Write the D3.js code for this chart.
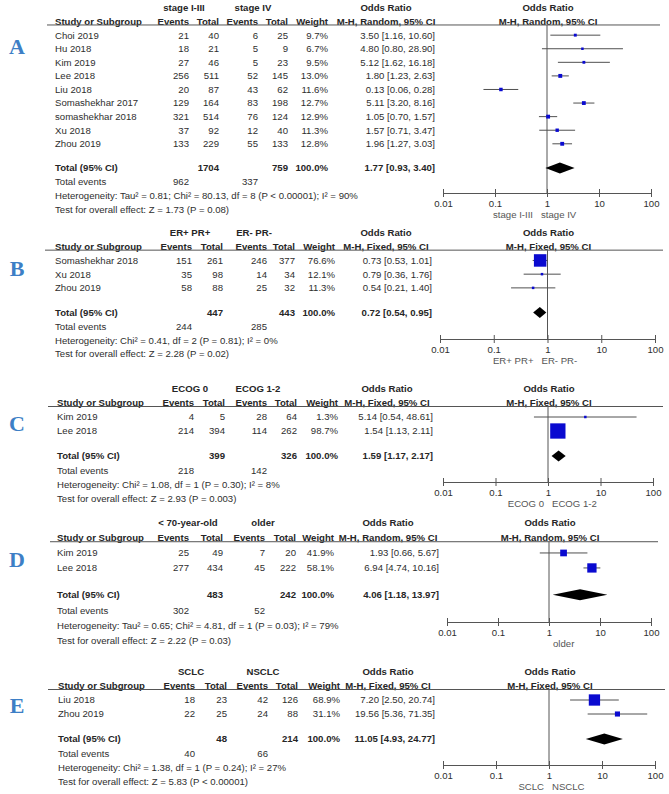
<!DOCTYPE html>
<html>
<head>
<meta charset="utf-8">
<script src="https://cdn.jsdelivr.net/npm/d3@7"></script>
<style>
  body { margin: 0; background: #fff; }
  svg text { font-family: Arial, "Liberation Sans", sans-serif; font-size: 9.6px; fill: #2e2e2e; }
  svg .bold { font-weight: bold; fill: #262626; }
</style>
</head>
<body>
<div id="chart"></div>
<script>
// Data
const letters = ["A", "B", "C", "D", "E"];
const groupNames = [["stage I-III", "stage IV"], ["ER+ PR+", "ER- PR-"], ["ECOG 0", "ECOG 1-2"], ["< 70-year-old", "older"], ["SCLC", "NSCLC"]];
const methodNames = ["M-H, Random, 95% CI", "M-H, Fixed, 95% CI", "M-H, Fixed, 95% CI", "M-H, Random, 95% CI", "M-H, Fixed, 95% CI"];

// study, events1, total1, events2, total2, weight %, OR, lower, upper
const stageRows = [
  ["Choi 2019", 21, 40, 6, 25, 9.7, 3.50, 1.16, 10.60],
  ["Hu 2018", 18, 21, 5, 9, 6.7, 4.80, 0.80, 28.90],
  ["Kim 2019", 27, 46, 5, 23, 9.5, 5.12, 1.62, 16.18],
  ["Lee 2018", 256, 511, 52, 145, 13.0, 1.80, 1.23, 2.63],
  ["Liu 2018", 20, 87, 43, 62, 11.6, 0.13, 0.06, 0.28],
  ["Somashekhar 2017", 129, 164, 83, 198, 12.7, 5.11, 3.20, 8.16],
  ["somashekhar 2018", 321, 514, 76, 124, 12.9, 1.05, 0.70, 1.57],
  ["Xu 2018", 37, 92, 12, 40, 11.3, 1.57, 0.71, 3.47],
  ["Zhou 2019", 133, 229, 55, 133, 12.8, 1.96, 1.27, 3.03]
];
const receptorRows = [
  ["Somashekhar 2018", 151, 261, 246, 377, 76.6, 0.73, 0.53, 1.01],
  ["Xu 2018", 35, 98, 14, 34, 12.1, 0.79, 0.36, 1.76],
  ["Zhou 2019", 58, 88, 25, 32, 11.3, 0.54, 0.21, 1.40]
];
const ecogRows = [
  ["Kim 2019", 4, 5, 28, 64, 1.3, 5.14, 0.54, 48.61],
  ["Lee 2018", 214, 394, 114, 262, 98.7, 1.54, 1.13, 2.11]
];
const ageRows = [
  ["Kim 2019", 25, 49, 7, 20, 41.9, 1.93, 0.66, 5.67],
  ["Lee 2018", 277, 434, 45, 222, 58.1, 6.94, 4.74, 10.16]
];
const histologyRows = [
  ["Liu 2018", 18, 23, 42, 126, 68.9, 7.20, 2.50, 20.74],
  ["Zhou 2019", 22, 25, 24, 88, 31.1, 19.56, 5.36, 71.35]
];

// total1, total2, events1, events2, OR, lower, upper
const pooled = [
  [1704, 759, 962, 337, 1.77, 0.93, 3.40],
  [447, 443, 244, 285, 0.72, 0.54, 0.95],
  [399, 326, 218, 142, 1.59, 1.17, 2.17],
  [483, 242, 302, 52, 4.06, 1.18, 13.97],
  [48, 214, 40, 66, 11.05, 4.93, 24.77]
];
const heterogeneity = [
  "Heterogeneity: Tau² = 0.81; Chi² = 80.13, df = 8 (P < 0.00001); I² = 90%",
  "Heterogeneity: Chi² = 0.41, df = 2 (P = 0.81); I² = 0%",
  "Heterogeneity: Chi² = 1.08, df = 1 (P = 0.30); I² = 8%",
  "Heterogeneity: Tau² = 0.65; Chi² = 4.81, df = 1 (P = 0.03); I² = 79%",
  "Heterogeneity: Chi² = 1.38, df = 1 (P = 0.24); I² = 27%"
];
const overallEffect = [
  "Test for overall effect: Z = 1.73 (P = 0.08)",
  "Test for overall effect: Z = 2.28 (P = 0.02)",
  "Test for overall effect: Z = 2.93 (P = 0.003)",
  "Test for overall effect: Z = 2.22 (P = 0.03)",
  "Test for overall effect: Z = 5.83 (P < 0.00001)"
];
const axisNotes = [["stage I-III", "stage IV"], ["ER+ PR+", "ER- PR-"], ["ECOG 0", "ECOG 1-2"], ["", "older"], ["SCLC", "NSCLC"]];
const tickValues = [0.01, 0.1, 1, 10, 100];

const studyRows = [stageRows, receptorRows, ecogRows, ageRows, histologyRows];

// layout of each stacked panel (pixels)
const layout = [
  { top: 8,   s: 0.97, studyX: 55, cols: [189, 219, 258, 288, 328], groupX: [184, 253], orHead: 386, orRight: 435, lineX: [47, 660], range: [443, 651], axisY: 193, letterY: 46,  boxK: 0.3,   noteShift: -10 },
  { top: 233, s: 0.98, studyX: 55, cols: [192, 223, 267, 295, 335], groupX: [190, 254], orHead: 386, orRight: 432, lineX: [45, 663], range: [440, 655], axisY: 339, letterY: 268, boxK: 0.163, noteShift: -10 },
  { top: 389, s: 1.0,  studyX: 57, cols: [194, 225, 267, 297, 338], groupX: [190, 258], orHead: 387, orRight: 433, lineX: [48, 663], range: [443, 653], axisY: 482, letterY: 423, boxK: 0.155, noteShift: 0 },
  { top: 523, s: 1.07, studyX: 57, cols: [189, 223, 265, 296, 334], groupX: [188, 263], orHead: 388, orRight: 439, lineX: [50, 658], range: [447, 651], axisY: 622, letterY: 559, boxK: 0.16,  noteShift: 0 },
  { top: 672, s: 1.0,  studyX: 58, cols: [195, 227, 268, 298, 340], groupX: [191, 263], orHead: 388, orRight: 435, lineX: [48, 665], range: [443, 655], axisY: 765, letterY: 705, boxK: 0.164, noteShift: -1 }
];

const svg = d3.select("#chart")
  .append("svg")
  .attr("width", 669)
  .attr("height", 794);

const fmt2 = d3.format(".2f");
const ciText = (or, lo, hi) => `${fmt2(or)} [${fmt2(lo)}, ${fmt2(hi)}]`;

function label(g, x, y, txt, anchor, bold) {
  return g.append("text")
    .attr("x", x).attr("y", y).attr("dy", "0.35em")
    .attr("text-anchor", anchor || "start")
    .attr("class", bold ? "bold" : null)
    .text(txt);
}

letters.forEach((letter, p) => {
  const L = layout[p];
  const rows = studyRows[p];
  const g = svg.append("g");
  const s = L.s;

  const yGroup = L.top;
  const yCol = L.top + 14 * s;
  const yLine = L.top + 17.5 * s;
  const rowY = i => L.top + 28 * s + i * 14 * s;
  const yTotal = rowY(rows.length - 1) + 25 * s;
  const yEvents = yTotal + 14.5 * s;
  const yHet = yEvents + 14 * s;
  const yTest = yHet + 14 * s;

  const x = d3.scaleLog().domain([0.01, 100]).range(L.range);
  const box = d3.scaleLinear().domain([0, 100]).range([0, L.boxK * 100]);
  const x1 = x(1);

  // panel letter
  g.append("text")
    .attr("x", 17).attr("y", L.letterY).attr("dy", "0.35em")
    .attr("text-anchor", "middle")
    .style("font-family", "'Liberation Serif', 'Times New Roman', serif")
    .style("font-size", "22px")
    .style("font-weight", "bold")
    .style("fill", "#3d7fc6")
    .text(letter);

  // headers
  groupNames[p].forEach((nm, i) => label(g, L.groupX[i], yGroup, nm, "middle", true));
  label(g, L.studyX, yCol, "Study or Subgroup", "start", true);
  ["Events", "Total", "Events", "Total", "Weight"].forEach((h, i) => label(g, L.cols[i], yCol, h, "end", true));
  label(g, L.orHead, yGroup, "Odds Ratio", "middle", true);
  label(g, L.orHead, yCol, methodNames[p], "middle", true);
  label(g, x1 + 1, yGroup, "Odds Ratio", "middle", true);
  label(g, x1 + 1, yCol, methodNames[p], "middle", true);

  g.append("line")
    .attr("x1", L.lineX[0]).attr("x2", L.lineX[1])
    .attr("y1", yLine).attr("y2", yLine)
    .attr("stroke", "#555").attr("stroke-width", 1);

  // null line
  g.append("line")
    .attr("x1", x1).attr("x2", x1)
    .attr("y1", yLine).attr("y2", L.axisY)
    .attr("stroke", "#555").attr("stroke-width", 1);

  // study rows
  rows.forEach((r, i) => {
    const y = rowY(i);
    label(g, L.studyX, y, r[0]);
    [r[1], r[2], r[3], r[4]].forEach((v, k) => label(g, L.cols[k], y, v, "end"));
    label(g, L.cols[4], y, `${r[5].toFixed(1)}%`, "end");
    label(g, L.orRight, y, ciText(r[6], r[7], r[8]), "end");
  });

  g.selectAll(".ci")
    .data(rows)
    .enter()
    .append("line")
    .attr("x1", d => x(d[7]))
    .attr("x2", d => x(d[8]))
    .attr("y1", (d, i) => rowY(i))
    .attr("y2", (d, i) => rowY(i))
    .attr("stroke", "#505050")
    .attr("stroke-width", 1);

  g.selectAll(".box")
    .data(rows)
    .enter()
    .append("rect")
    .attr("x", d => x(d[6]) - Math.max(2.5, box(d[5])) / 2)
    .attr("y", (d, i) => rowY(i) - Math.max(2.5, box(d[5])) / 2)
    .attr("width", d => Math.max(2.5, box(d[5])))
    .attr("height", d => Math.max(2.5, box(d[5])))
    .attr("fill", "#0a0ad0");

  // pooled row
  const t = pooled[p];
  label(g, L.studyX, yTotal, "Total (95% CI)", "start", true);
  label(g, L.cols[1], yTotal, t[0], "end", true);
  label(g, L.cols[3], yTotal, t[1], "end", true);
  label(g, L.cols[4], yTotal, "100.0%", "end", true);
  label(g, L.orRight, yTotal, ciText(t[4], t[5], t[6]), "end", true);

  g.append("path")
    .attr("d", `M${x(t[5])},${yTotal}L${x(t[4])},${yTotal - 5.5}L${x(t[6])},${yTotal}L${x(t[4])},${yTotal + 5.5}Z`)
    .attr("fill", "#000");

  label(g, L.studyX, yEvents, "Total events");
  label(g, L.cols[0], yEvents, t[2], "end");
  label(g, L.cols[2], yEvents, t[3], "end");
  label(g, L.studyX, yHet, heterogeneity[p]);
  label(g, L.studyX, yTest, overallEffect[p]);

  // axis
  const ax = g.append("g")
    .attr("transform", `translate(0,${L.axisY})`)
    .call(d3.axisBottom(x).tickValues(tickValues).tickFormat(d3.format("~g")).tickSize(4).tickSizeOuter(0).tickPadding(3));
  ax.select(".domain").attr("stroke", "#555");
  ax.selectAll(".tick line").attr("y1", -4).attr("y2", 4).attr("stroke", "#555");
  ax.selectAll(".tick text")
    .attr("font-family", null).attr("font-size", null)
    .attr("fill", null);

  const notes = axisNotes[p];
  g.append("text")
    .attr("x", x1 + L.noteShift - 4).attr("y", L.axisY + 22).attr("dy", "0.35em")
    .attr("text-anchor", "end")
    .style("fill", "#555")
    .text(notes[0]);
  g.append("text")
    .attr("x", x1 + L.noteShift + 4).attr("y", L.axisY + 22).attr("dy", "0.35em")
    .style("fill", "#555")
    .text(notes[1]);
});
</script>
</body>
</html>
